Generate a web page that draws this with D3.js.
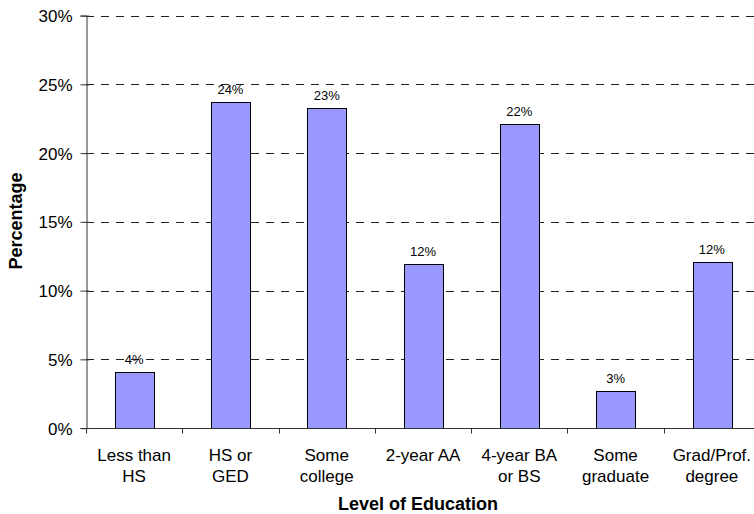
<!DOCTYPE html>
<html>
<head>
<meta charset="utf-8">
<script src="https://cdn.jsdelivr.net/npm/d3@7"></script>
<style>
  html, body { margin: 0; padding: 0; background: #fff; }
  svg { display: block; font-family: Arial, "Liberation Sans", sans-serif; }
</style>
</head>
<body>
<svg id="chart" width="754" height="514"></svg>
<script>
// Education level categories (two-line labels)
const categories = [
  ["Less than", "HS"],
  ["HS or", "GED"],
  ["Some", "college"],
  ["2-year AA"],
  ["4-year BA", "or BS"],
  ["Some", "graduate"],
  ["Grad/Prof.", "degree"]
];
// Share of respondents at each level (fractions)
const shares = [0.0408, 0.237, 0.2328, 0.1193, 0.2212, 0.0272, 0.1208];
const yTicks = [0, 0.05, 0.10, 0.15, 0.20, 0.25, 0.30];

const svg = d3.select("#chart");
const margin = { left: 86, top: 15.6, plotW: 674, plotH: 412.5 };

const x = d3.scaleBand()
  .domain(d3.range(categories.length))
  .range([margin.left, margin.left + margin.plotW])
  .paddingInner(0.6)
  .paddingOuter(0.3);

const y = d3.scaleLinear()
  .domain([0, 0.30])
  .range([margin.top + margin.plotH, margin.top]);

const fmt = d3.format(".0%");

// Dashed horizontal gridlines
svg.append("g")
  .selectAll("line")
  .data(yTicks.filter(t => t > 0))
  .join("line")
  .attr("x1", margin.left)
  .attr("x2", margin.left + margin.plotW)
  .attr("y1", d => Math.round(y(d)) + 0.5)
  .attr("y2", d => Math.round(y(d)) + 0.5)
  .attr("stroke", "#222")
  .attr("stroke-width", 1)
  .attr("stroke-dasharray", "8,7");

// Bars
svg.append("g")
  .selectAll("rect")
  .data(shares)
  .join("rect")
  .attr("x", (d, i) => Math.round(x(i)) + 0.5)
  .attr("y", d => Math.round(y(d)) + 0.5)
  .attr("width", Math.round(x.bandwidth()))
  .attr("height", d => Math.round(y(0)) - Math.round(y(d)))
  .attr("fill", "#9999ff")
  .attr("stroke", "#000")
  .attr("stroke-width", 1);

// Value labels above bars
svg.append("g")
  .selectAll("text")
  .data(shares)
  .join("text")
  .attr("x", (d, i) => x(i) + x.bandwidth() / 2)
  .attr("y", d => y(d) - 8)
  .attr("text-anchor", "middle")
  .attr("font-size", 13)
  .attr("fill", "#000")
  .text(d => fmt(d));

// Y axis
const yAxis = d3.axisLeft(y)
  .tickValues(yTicks)
  .tickFormat(fmt)
  .tickSize(6)
  .tickPadding(8);
const yg = svg.append("g")
  .attr("transform", `translate(${margin.left + 0.5},0)`)
  .call(yAxis);
yg.select(".domain").attr("stroke", "#333");
yg.selectAll(".tick line").attr("stroke", "#333").attr("x2", -6).attr("x1", 3);
yg.selectAll(".tick text").attr("font-size", 17).attr("fill", "#000")
  .attr("dy", "0.36em")
  .attr("font-family", "Arial, 'Liberation Sans', sans-serif");

// X axis with ticks at band boundaries
const xg = svg.append("g")
  .attr("transform", `translate(0,${Math.round(y(0)) + 0.5})`);
xg.append("line")
  .attr("x1", margin.left)
  .attr("x2", margin.left + margin.plotW)
  .attr("stroke", "#333");
xg.selectAll("line.tk")
  .data(d3.range(categories.length + 1))
  .join("line")
  .attr("class", "tk")
  .attr("x1", i => Math.round(margin.left + i * x.step()) + 0.5)
  .attr("x2", i => Math.round(margin.left + i * x.step()) + 0.5)
  .attr("y1", 0)
  .attr("y2", 5)
  .attr("stroke", "#333");

const labels = xg.selectAll("text.cat")
  .data(categories)
  .join("text")
  .attr("class", "cat")
  .attr("text-anchor", "middle")
  .attr("font-size", 17)
  .attr("fill", "#000");
labels.each(function(lines, i) {
  const t = d3.select(this);
  lines.forEach((ln, k) => {
    t.append("tspan")
      .attr("x", x(i) + x.bandwidth() / 2)
      .attr("y", 32 + k * 21.7)
      .text(ln);
  });
});

// Axis titles
svg.append("text")
  .attr("x", 418)
  .attr("y", 510)
  .attr("text-anchor", "middle")
  .attr("font-size", 18)
  .attr("font-weight", "bold")
  .text("Level of Education");

svg.append("text")
  .attr("transform", `translate(22,221) rotate(-90)`)
  .attr("text-anchor", "middle")
  .attr("font-size", 18)
  .attr("font-weight", "bold")
  .text("Percentage");
</script>
</body>
</html>
